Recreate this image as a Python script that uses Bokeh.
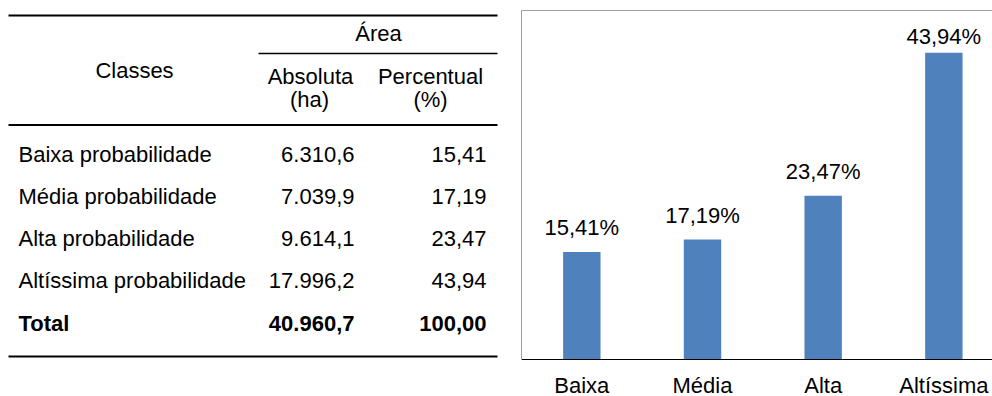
from bokeh.plotting import figure
from bokeh.layouts import row
from bokeh.models import Range1d, FixedTicker, LinearAxis, ColumnDataSource
from bokeh.core.properties import value
from bokeh.embed import file_html
from bokeh.resources import INLINE

# ---------------- data ----------------
classes = ["Baixa probabilidade", "Média probabilidade", "Alta probabilidade", "Altíssima probabilidade"]
area_ha = [6310.6, 7039.9, 9614.1, 17996.2]
area_pct = [15.41, 17.19, 23.47, 43.94]
total_label = "Total"
total_ha = 40960.7
total_pct = 100.00
bar_labels = ["Baixa", "Média", "Alta", "Altíssima"]

FONT = "Liberation Sans"
FS = "22px"
H = 396
TOP = 10            # frame top (both panels)
BASE = 359          # pixel row of the bar chart's baseline
SHIFT = 8           # baseline correction for svg text


def br(v, d):
    s = f"{v:,.{d}f}"
    return s.replace(",", "X").replace(".", ",").replace("X", ".")


# ---------------- table (left) ----------------
TW = 510
t = figure(width=TW, height=H, x_range=Range1d(0, TW), y_range=Range1d(H, TOP),
           output_backend="svg", toolbar_location=None,
           x_axis_location=None, y_axis_location=None,
           min_border_left=0, min_border_right=0, min_border_top=TOP, min_border_bottom=0,
           outline_line_color=None)
t.grid.visible = False

t.segment(x0=[8, 258, 8, 8], x1=[497, 497, 497, 497],
          y0=[15, 53, 124.5, 356], y1=[15, 53, 124.5, 356],
          line_color="black", line_width=[2, 1.5, 2, 2])


def txt(x, y, s, align, bold=False):
    t.text(x=x, y=[v - SHIFT for v in y], text=s, text_align=align, text_baseline="alphabetic",
           text_font=value(FONT), text_font_size=FS,
           text_font_style="bold" if bold else "normal", text_color="black")


txt([134], [78], ["Classes"], "center")
txt([378], [41], ["Área"], "center")
txt([310, 430], [84, 84], ["Absoluta", "Percentual"], "center")
txt([309, 430], [106.5, 106.5], ["(ha)", "(%)"], "center")

row_base, row_step = 161.7, 42.25
ys = [row_base + i * row_step for i in range(len(classes))]
txt([18] * len(classes), ys, classes, "left")
txt([354] * len(classes), ys, [br(v, 1) for v in area_ha], "right")
txt([486] * len(classes), ys, [br(v, 2) for v in area_pct], "right")
ty = row_base + len(classes) * row_step
txt([18], [ty], [total_label], "left", bold=True)
txt([354], [ty], [br(total_ha, 1)], "right", bold=True)
txt([486], [ty], [br(total_pct, 2)], "right", bold=True)

# ---------------- bar chart (right) ----------------
CW = 992 - TW
LEFT = 11
YMAX = 50
ppu = (BASE - TOP) / YMAX
xs = list(range(len(bar_labels)))
label_y = [min(v + (16 + SHIFT) / ppu, YMAX - (34 - SHIFT) / ppu) for v in area_pct]
src = ColumnDataSource(dict(x=xs, top=area_pct, ly=label_y,
                            label=[br(v, 2) + "%" for v in area_pct]))

c = figure(width=CW, height=H, x_range=Range1d(-0.5, -0.5 + (CW - LEFT) / 120.67),
           y_range=Range1d(-(H - BASE) / ppu, YMAX),
           output_backend="svg", toolbar_location=None,
           min_border_left=LEFT, min_border_right=0, min_border_top=TOP, min_border_bottom=0,
           outline_line_color=None)
c.grid.visible = False
c.vbar(x="x", top="top", bottom=0, width=0.31, source=src,
       fill_color="#4F81BD", line_color=None)
c.text(x="x", y="ly", text="label", source=src, text_align="center",
       text_baseline="alphabetic", text_font=value(FONT), text_font_size=FS,
       text_color="black")

xa = c.xaxis[0]
xa.fixed_location = 0
xa.ticker = FixedTicker(ticks=xs)
xa.major_label_overrides = {i: lab for i, lab in zip(xs, bar_labels)}
xa.major_tick_line_color = None
xa.minor_tick_line_color = None
xa.major_tick_out = 0
xa.major_tick_in = 0
xa.minor_tick_out = 0
xa.axis_line_color = "black"
xa.axis_line_width = 1
xa.major_label_text_font = FONT
xa.major_label_text_font_size = FS
xa.major_label_text_color = "black"
xa.major_label_standoff = 13

ya = c.yaxis[0]
ya.ticker = FixedTicker(ticks=[])
ya.bounds = (0, YMAX)
ya.major_tick_line_color = None
ya.minor_tick_line_color = None
ya.major_tick_out = 0
ya.major_tick_in = 0
ya.minor_tick_out = 0
ya.major_label_standoff = 0
ya.axis_line_color = "#a0a0a0"

top_axis = LinearAxis(ticker=FixedTicker(ticks=[]), axis_line_color="#a0a0a0",
                      major_tick_line_color=None, minor_tick_line_color=None,
                      major_tick_out=0, major_tick_in=0, minor_tick_out=0,
                      major_label_standoff=0)
c.add_layout(top_axis, "above")

layout = row(t, c)
open("out.html", "w").write(file_html(layout, INLINE))
